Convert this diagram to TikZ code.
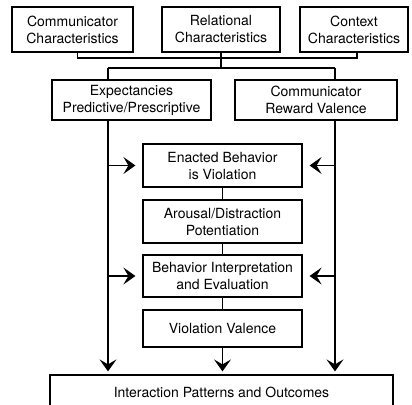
\documentclass[tikz,border=0pt]{standalone}
\usepackage{fontspec}
\setmainfont{TeX Gyre Heros}
\usetikzlibrary{arrows.meta}
\begin{document}
\begin{tikzpicture}[
  x=1pt, y=-1pt,
  box/.style={draw=black, line width=1.2pt, inner sep=0pt, align=center,
    font=\fontsize{14}{17}\selectfont},
  arr/.style={line width=1.2pt, -{Stealth[length=12pt, width=17pt, inset=5pt]}}
]
\useasboundingbox (0,0) rectangle (412,404);

\node[box, minimum width=121pt, minimum height=45pt] (comm) at (72.5,29.5) {Communicator\\Characteristics};
\node[box, minimum width=118pt, minimum height=45pt] (rel)  at (221,29.5)  {Relational\\Characteristics};
\node[box, minimum width=108pt, minimum height=45pt] (ctx)  at (354,29.5)  {Context\\Characteristics};

\node[box, minimum width=159pt, minimum height=40pt] (expect) at (131.5,100) {Expectancies\\Predictive/Prescriptive};
\node[box, minimum width=162pt, minimum height=40pt] (reward) at (316,100)   {Communicator\\Reward Valence};

\node[box, minimum width=159pt, minimum height=43pt] (enact)   at (222.5,165.5) {Enacted Behavior\\is Violation};
\node[box, minimum width=159pt, minimum height=43pt] (arousal) at (222.5,221.5) {Arousal/Distraction\\Potentiation};
\node[box, minimum width=159pt, minimum height=42pt] (interp)  at (222.5,276)   {Behavior Interpretation\\and Evaluation};
\node[box, minimum width=159pt, minimum height=37pt] (valence) at (222.5,328.5) {Violation Valence};

\node[box, minimum width=343pt, minimum height=68pt] (outcome) at (221.5,409) {};
\node[font=\fontsize{14}{17}\selectfont] (outtext) at (221.5,392) {Interaction Patterns and Outcomes};

\coordinate (top) at (221,58);
\coordinate (lt) at (108,68);
\coordinate (rt) at (335,68);

% top row into the two middle boxes
\draw[line width=1.2pt] ([xshift=5pt]comm.south) |- (top) -| ([xshift=3pt]ctx.south);
\draw[line width=1.2pt] (rel.south) -- (rel.south |- lt);
\draw[line width=1.2pt] (lt) -- (rt);
\draw[line width=1.2pt] (lt) -- (lt |- expect.north);
\draw[line width=1.2pt] (rt) -- (rt |- reward.north);

% side lines
\draw[arr, shorten >=3pt] (lt |- expect.south) -- (lt |- outcome.north);
\draw[arr, shorten >=3pt] (rt |- reward.south) -- (rt |- outcome.north);
\draw[arr, shorten >=7pt] (lt |- enact) -- (enact.west);
\draw[arr, shorten >=7pt] (rt |- enact) -- (enact.east);
\draw[arr, shorten >=7pt] (lt |- interp) -- (interp.west);
\draw[arr, shorten >=7pt] (rt |- interp) -- (interp.east);

% middle chain
\draw[line width=1.2pt] (enact) -- (arousal);
\draw[line width=1.2pt] (arousal) -- (interp);
\draw[line width=1.2pt] (interp) -- (valence);
\draw[arr, shorten >=3pt] (valence) -- (valence |- outcome.north);
\end{tikzpicture}
\end{document}
